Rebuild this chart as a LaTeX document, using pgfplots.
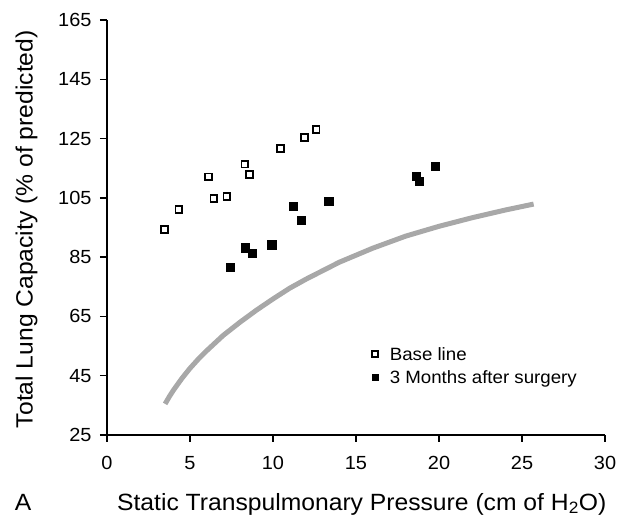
\documentclass[border=0pt]{standalone}
\usepackage{fontspec}
\setmainfont{Liberation Sans}[FakeStretch=1.05]
\usepackage{pgfplots}
\pgfplotsset{compat=1.18}

\definecolor{curvegray}{RGB}{168,168,168}

\begin{document}
\begin{tikzpicture}[x=1pt,y=1pt]
\useasboundingbox (0,0) rectangle (618,516);
\begin{axis}[
  at={(107pt,81pt)}, anchor=south west,
  scale only axis,
  width=498pt, height=415pt,
  xmin=0, xmax=30, ymin=25, ymax=165,
  xtick={0,5,...,30}, ytick={25,45,...,165},
  axis lines*=left,
  axis line style={line width=1.4pt},
  tick style={line width=1.4pt, black},
  tick align=outside,
  major tick length=7pt,
  clip=false,
  /pgf/number format/assume math mode=true,
  ticklabel style={font=\fontsize{19}{22}\selectfont},
  xticklabel style={yshift=-11pt},
  yticklabel style={xshift=-5pt},
  xlabel={Static Transpulmonary Pressure (cm of H\textsubscript{2}O)},
  ylabel={Total Lung Capacity (\% of predicted)},
  label style={font=\fontsize{23.5}{27}\selectfont},
  xlabel style={at={(axis description cs:0.5115,-0.181)}, anchor=base},
  ylabel style={at={(axis description cs:-0.1496,0.496)}, anchor=base, rotate=0},
  legend style={draw=none, fill=none,
    at={(axis cs:15.79,55.2)}, anchor=north west,
    font=\fontsize{17.8}{21}\selectfont,
    nodes={inner sep=0pt, text height=13pt, text depth=4pt, anchor=base west},
    row sep=5.7pt,
    /tikz/every odd column/.append style={column sep=11.5pt}},
  legend cell align=left,
  legend image code/.code={\draw[#1, mark size=3pt] plot coordinates {(0pt,6.3pt)};},
]

% predicted normal relation
\addplot[curvegray, line width=5pt, forget plot] coordinates {
  (3.5,35.5) (3.75,37.9) (4.0,40.1) (4.5,44.0) (5.0,47.5) (5.5,50.6)
  (6.0,53.4) (7.0,58.6) (8.0,63.0) (9.0,67.1) (10.0,70.9) (11.0,74.5)
  (12.0,77.6) (14.0,83.3) (16.0,88.0) (18.0,92.1) (20.0,95.4)
  (22.0,98.3) (24.0,100.9) (25.7,102.9)
};

% base line measurements
\addplot[only marks, mark=square*, mark options={fill=white, draw=black, line width=1.8pt}, mark size=3.4pt] coordinates {
  (3.46,94.3) (4.33,101.0) (6.10,112.1) (6.44,104.8) (7.22,105.5)
  (8.31,116.4) (8.59,112.8) (10.44,121.7) (11.89,125.4) (12.60,128.0)
};
\addlegendentry{Base line}

% three months after surgery
\addplot[only marks, mark=square*, mark options={fill=black, draw=black, line width=0.4pt}, mark size=4.1pt] coordinates {
  (19.78,115.7) (18.65,112.4) (18.81,110.6) (13.36,104.0) (11.24,102.1)
  (11.69,97.4) (9.92,89.2) (8.33,88.2) (8.75,86.4) (7.42,81.5)
};
\addlegendentry{3 Months after surgery}

\node[font=\fontsize{23.5}{27}\selectfont, anchor=base west] at (axis description cs:-0.192,-0.181) {A};
\end{axis}
\end{tikzpicture}
\end{document}
